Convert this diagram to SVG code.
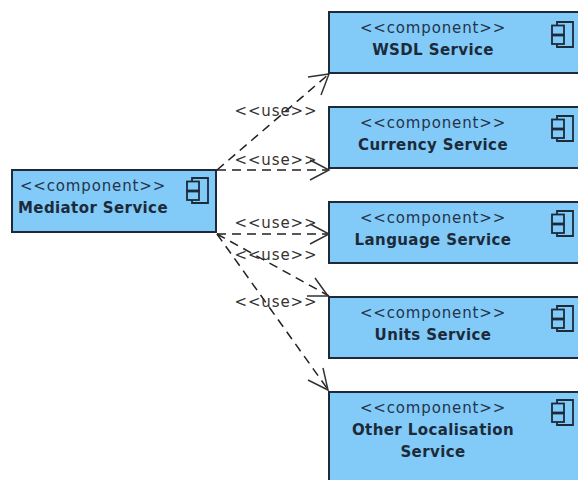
<svg xmlns="http://www.w3.org/2000/svg" width="578" height="480" viewBox="0 0 578 480">
<style>
.box{fill:#82caf8;stroke:#1c2a3a;stroke-width:2}
.st{font:15px "DejaVu Sans",sans-serif;fill:#24344a;text-anchor:middle;letter-spacing:.85px}
.nm{font:bold 15px "DejaVu Sans",sans-serif;fill:#1c2a3a;text-anchor:middle;letter-spacing:.4px}
.ic{fill:none;stroke:#1c2a3a;stroke-width:1.8}
.ln{fill:none;stroke:#222;stroke-width:1.5;stroke-dasharray:9 6}
.ah{fill:none;stroke:#333;stroke-width:1.5}
.lb{font:15px "DejaVu Sans",sans-serif;fill:#333;text-anchor:middle;letter-spacing:.9px}
</style>
<defs>
<g id="icon"><path class="ic" d="M5 3V0H21V25H5V22M5 12.500V13"/><rect class="ic" x="0" y="3.500" width="12" height="9"/><rect class="ic" x="0" y="13.500" width="12" height="8.500"/></g>
</defs>
<g id="connectors">
<path class="ln" d="M217 170L329 74"/><path class="ah" d="M308 77L329 74L321 95"/>
<path class="ln" d="M217 170H329"/><path class="ah" d="M310 160L329 170L310 180"/>
<path class="ln" d="M217 234H329"/><path class="ah" d="M310 224L329 234L310 244"/>
<path class="ln" d="M217 234L329 296"/><path class="ah" d="M315 278L328 296L307 296"/>
<path class="ln" d="M217 234L329 391"/><path class="ah" d="M308 380L328 390L323 368"/>
<text class="lb" x="276" y="116">&lt;&lt;use&gt;&gt;</text>
<text class="lb" x="276" y="165">&lt;&lt;use&gt;&gt;</text>
<text class="lb" x="276" y="228">&lt;&lt;use&gt;&gt;</text>
<text class="lb" x="276" y="260">&lt;&lt;use&gt;&gt;</text>
<text class="lb" x="276" y="307">&lt;&lt;use&gt;&gt;</text>
</g>
<g id="mediator"><rect class="box" x="12" y="170" width="204" height="62"/><text class="st" x="93" y="191">&lt;&lt;component&gt;&gt;</text><text class="nm" x="93" y="213">Mediator Service</text><use href="#icon" x="187" y="178"/></g>
<g id="wsdl"><rect class="box" x="329" y="12" width="260" height="61"/><text class="st" x="433" y="33">&lt;&lt;component&gt;&gt;</text><text class="nm" x="433" y="55">WSDL Service</text><use href="#icon" x="552" y="22"/></g>
<g id="currency"><rect class="box" x="329" y="107" width="260" height="61"/><text class="st" x="433" y="128">&lt;&lt;component&gt;&gt;</text><text class="nm" x="433" y="150">Currency Service</text><use href="#icon" x="552" y="116"/></g>
<g id="language"><rect class="box" x="329" y="202" width="260" height="61"/><text class="st" x="433" y="223">&lt;&lt;component&gt;&gt;</text><text class="nm" x="433" y="245">Language Service</text><use href="#icon" x="552" y="211"/></g>
<g id="units"><rect class="box" x="329" y="297" width="260" height="61"/><text class="st" x="433" y="318">&lt;&lt;component&gt;&gt;</text><text class="nm" x="433" y="340">Units Service</text><use href="#icon" x="552" y="306"/></g>
<g id="other"><rect class="box" x="329" y="392" width="260" height="100"/><text class="st" x="433" y="413">&lt;&lt;component&gt;&gt;</text><text class="nm" x="433" y="435">Other Localisation</text><text class="nm" x="433" y="457">Service</text><use href="#icon" x="552" y="400"/></g>
</svg>
